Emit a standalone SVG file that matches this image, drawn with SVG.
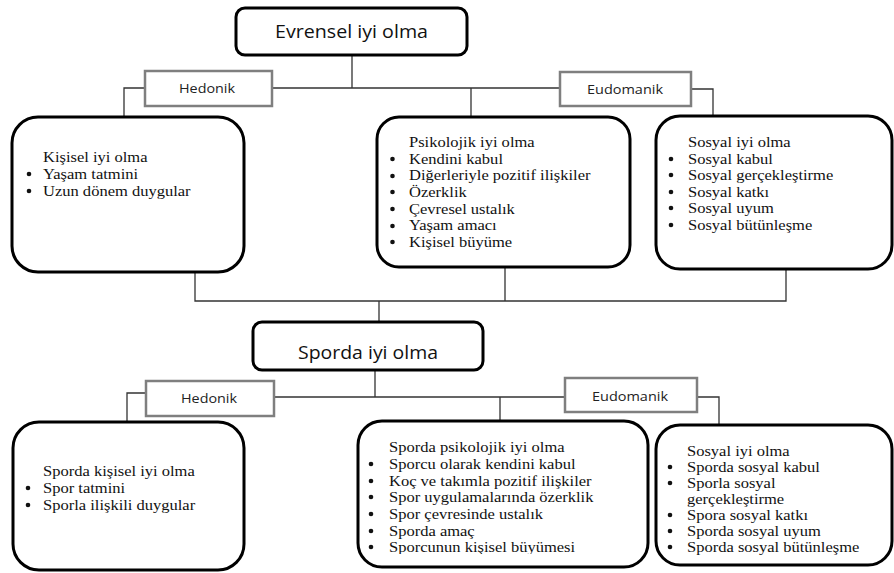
<svg xmlns="http://www.w3.org/2000/svg" width="894" height="573" viewBox="0 0 894 573">
<defs>
<style>
.bg{fill:#fff}
.box{fill:#fff;stroke:#000;stroke-width:3}
.lab{fill:#fff;stroke:#7f7f7f;stroke-width:2.5}
.ttl{font-family:"Open Sans","Liberation Sans",sans-serif;font-size:18px;fill:#111;text-anchor:middle}
.lt{font-family:"Open Sans","Liberation Sans",sans-serif;font-size:12px;fill:#222;text-anchor:middle}
.tx{font-family:"Liberation Serif","Times New Roman",serif;font-size:14px;fill:#111}
.bul{fill:#111}
.con{fill:none;stroke:#333;stroke-width:1.3}
</style>
<clipPath id="clipB"><rect x="-400" y="0" width="894" height="554"/></clipPath>
</defs>
<rect class="bg" x="0" y="0" width="894" height="573"/>

<g id="connectors">
<path class="con" d="M352 55 V88 M272 88 H560 M471 88 V117"/>
<path class="con" d="M145 88 H124 V117"/>
<path class="con" d="M691 89 H713 V116"/>
<path class="con" d="M195 272 V301 H786 V269 M505 267 V301 M379 301 V322"/>
<path class="con" d="M375 370 V397 M274 397 H565 M500 397 V422"/>
<path class="con" d="M146 393 H127 V421"/>
<path class="con" d="M697 397 H719 V424"/>
</g>

<g id="evrensel">
<rect class="box" x="236" y="8" width="231" height="47" rx="9"/>
<text class="ttl" x="351.5" y="37.5" textLength="153" lengthAdjust="spacingAndGlyphs">Evrensel iyi olma</text>
</g>

<g id="hedonik1">
<rect class="lab" x="145" y="71" width="127" height="35"/>
<text class="lt" x="207" y="93" textLength="56" lengthAdjust="spacingAndGlyphs">Hedonik</text>
</g>

<g id="eudomanik1">
<rect class="lab" x="560" y="72" width="131" height="34"/>
<text class="lt" x="625" y="94" textLength="76" lengthAdjust="spacingAndGlyphs">Eudomanik</text>
</g>

<g id="kisisel">
<rect class="box" x="12" y="117" width="232" height="155" rx="26"/>
<circle class="bul" cx="29" cy="174" r="2.3"/>
<circle class="bul" cx="29" cy="191" r="2.3"/>
<g transform="translate(43 0) scale(1.18 1)">
<text class="tx" x="0" y="162">Kişisel iyi olma</text>
<text class="tx" x="0" y="179">Yaşam tatmini</text>
<text class="tx" x="0" y="196">Uzun dönem duygular</text>
</g>
</g>

<g id="psikolojik">
<rect class="box" x="377" y="117" width="253" height="150" rx="22"/>
<circle class="bul" cx="392.5" cy="159" r="2.3"/>
<circle class="bul" cx="392.5" cy="176" r="2.3"/>
<circle class="bul" cx="392.5" cy="192" r="2.3"/>
<circle class="bul" cx="392.5" cy="209" r="2.3"/>
<circle class="bul" cx="392.5" cy="226" r="2.3"/>
<circle class="bul" cx="392.5" cy="242" r="2.3"/>
<g transform="translate(409 0) scale(1.18 1)">
<text class="tx" x="0" y="147">Psikolojik iyi olma</text>
<text class="tx" x="0" y="164">Kendini kabul</text>
<text class="tx" x="0" y="180.5">Diğerleriyle pozitif ilişkiler</text>
<text class="tx" x="0" y="197">Özerklik</text>
<text class="tx" x="0" y="214">Çevresel ustalık</text>
<text class="tx" x="0" y="230.5">Yaşam amacı</text>
<text class="tx" x="0" y="247">Kişisel büyüme</text>
</g>
</g>

<g id="sosyal">
<rect class="box" x="656" y="116" width="236" height="153" rx="24"/>
<circle class="bul" cx="671" cy="159" r="2.3"/>
<circle class="bul" cx="671" cy="175" r="2.3"/>
<circle class="bul" cx="671" cy="192" r="2.3"/>
<circle class="bul" cx="671" cy="208" r="2.3"/>
<circle class="bul" cx="671" cy="225" r="2.3"/>
<g transform="translate(688 0) scale(1.18 1)">
<text class="tx" x="0" y="147">Sosyal iyi olma</text>
<text class="tx" x="0" y="164">Sosyal kabul</text>
<text class="tx" x="0" y="180">Sosyal gerçekleştirme</text>
<text class="tx" x="0" y="197">Sosyal katkı</text>
<text class="tx" x="0" y="213">Sosyal uyum</text>
<text class="tx" x="0" y="230">Sosyal bütünleşme</text>
</g>
</g>

<g id="sporda">
<rect class="box" x="253" y="322" width="230" height="48" rx="9"/>
<text class="ttl" x="368" y="359" textLength="140" lengthAdjust="spacingAndGlyphs">Sporda iyi olma</text>
</g>

<g id="hedonik2">
<rect class="lab" x="146" y="381" width="128" height="35"/>
<text class="lt" x="209" y="403" textLength="56" lengthAdjust="spacingAndGlyphs">Hedonik</text>
</g>

<g id="eudomanik2">
<rect class="lab" x="565" y="378" width="132" height="34"/>
<text class="lt" x="630" y="401" textLength="76" lengthAdjust="spacingAndGlyphs">Eudomanik</text>
</g>

<g id="sporda-kisisel">
<rect class="box" x="13" y="422" width="231" height="148" rx="26"/>
<circle class="bul" cx="28" cy="488" r="2.3"/>
<circle class="bul" cx="28" cy="505" r="2.3"/>
<g transform="translate(43 0) scale(1.18 1)">
<text class="tx" x="0" y="476">Sporda kişisel iyi olma</text>
<text class="tx" x="0" y="493">Spor tatmini</text>
<text class="tx" x="0" y="510">Sporla ilişkili duygular</text>
</g>
</g>

<g id="sporda-psikolojik">
<rect class="box" x="358" y="421" width="290" height="146" rx="24"/>
<circle class="bul" cx="371" cy="464" r="2.3"/>
<circle class="bul" cx="371" cy="481" r="2.3"/>
<circle class="bul" cx="371" cy="497" r="2.3"/>
<circle class="bul" cx="371" cy="514" r="2.3"/>
<circle class="bul" cx="371" cy="531" r="2.3"/>
<circle class="bul" cx="371" cy="547" r="2.3"/>
<g transform="translate(389 0) scale(1.18 1)">
<text class="tx" x="0" y="452">Sporda psikolojik iyi olma</text>
<text class="tx" x="0" y="469">Sporcu olarak kendini kabul</text>
<text class="tx" x="0" y="486">Koç ve takımla pozitif ilişkiler</text>
<text class="tx" x="0" y="502">Spor uygulamalarında özerklik</text>
<text class="tx" x="0" y="519">Spor çevresinde ustalık</text>
<text class="tx" x="0" y="536">Sporda amaç</text>
<text class="tx" x="0" y="552" clip-path="url(#clipB)">Sporcunun kişisel büyümesi</text>
</g>
</g>

<g id="sporda-sosyal">
<rect class="box" x="656" y="425" width="236" height="140" rx="24"/>
<circle class="bul" cx="670" cy="467" r="2.3"/>
<circle class="bul" cx="670" cy="483" r="2.3"/>
<circle class="bul" cx="670" cy="515" r="2.3"/>
<circle class="bul" cx="670" cy="531" r="2.3"/>
<circle class="bul" cx="670" cy="547" r="2.3"/>
<g transform="translate(687 0) scale(1.18 1)">
<text class="tx" x="0" y="456">Sosyal iyi olma</text>
<text class="tx" x="0" y="472">Sporda sosyal kabul</text>
<text class="tx" x="0" y="488">Sporla sosyal</text>
<text class="tx" x="0" y="504">gerçekleştirme</text>
<text class="tx" x="0" y="520">Spora sosyal katkı</text>
<text class="tx" x="0" y="536">Sporda sosyal uyum</text>
<text class="tx" x="0" y="552">Sporda sosyal bütünleşme</text>
</g>
</g>
</svg>
